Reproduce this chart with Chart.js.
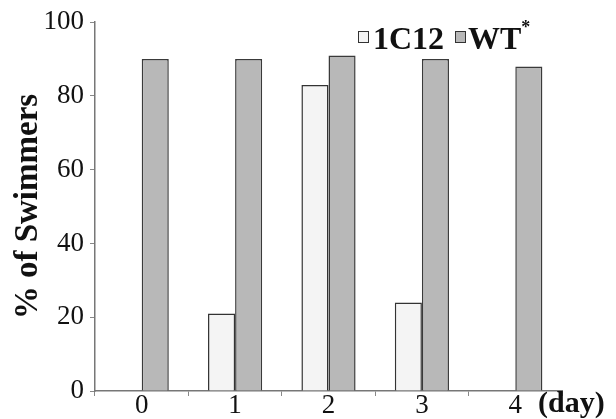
<!DOCTYPE html>
<html lang="en">
<head>
  <meta charset="UTF-8">
  <title>% of Swimmers</title>
  <script src="https://cdn.jsdelivr.net/npm/chart.js"></script>
  <style>
    body {
      margin: 0;
      background: #fff;
      font-family: 'Liberation Serif', 'Times New Roman', serif;
    }
    .wrap {
      position: relative;
      width: 616px;
      height: 419px;
      overflow: hidden;
    }
    .lg {
      position: absolute;
      font-weight: bold;
      font-size: 32px;
      line-height: 1;
      color: #111;
      white-space: nowrap;
    }
    .box {
      position: absolute;
      width: 9px;
      height: 10px;
      border: 1.5px solid #333;
    }
    .lg sup {
      font-size: 18px;
      vertical-align: baseline;
      position: relative;
      top: -16px;
    }
    .day {
      position: absolute;
      left: 538px;
      top: 387px;
      font-weight: bold;
      font-size: 30px;
      line-height: 1;
      color: #111;
    }
  </style>
</head>
<body>
  <div class="wrap">
    <canvas id="swimChart" width="616" height="419"></canvas>
    <span class="box" style="left:358px; top:31px; background:#f4f4f4"></span>
    <span class="lg" style="left:373px; top:22px">1C12</span>
    <span class="box" style="left:455px; top:31px; background:#b8b8b8"></span>
    <span class="lg" style="left:468px; top:22px">WT<sup>*</sup></span>
    <div class="day">(day)</div>
  </div>

  <script>
    // data
    const days = ['0', '1', '2', '3', '4'];
    const mutant1C12 = [0, 21, 83, 24, 0];
    const wildType = [90, 90, 91, 90, 88];
    const yTicks = [0, 20, 40, 60, 80, 100];

    const serif = "'Liberation Serif', 'Times New Roman', serif";

    const ctx = document.getElementById('swimChart').getContext('2d');
    const swimChart = new Chart(ctx, {
      type: 'bar',
      data: {
        labels: days,
        datasets: [{
          label: '1C12',
          data: mutant1C12,
          backgroundColor: '#f4f4f4',
          borderColor: '#333',
          borderWidth: 1.5,
          categoryPercentage: 0.58,
          barPercentage: 1.0
        }, {
          label: 'WT*',
          data: wildType,
          backgroundColor: '#b8b8b8',
          borderColor: '#3a3a3a',
          borderWidth: 1.5,
          categoryPercentage: 0.58,
          barPercentage: 1.0
        }]
      },
      options: {
        responsive: false,
        animation: false,
        layout: { padding: { top: 21, right: 54, left: 0, bottom: 0 } },
        plugins: {
          legend: { display: false },
          tooltip: { enabled: false }
        },
        scales: {
          x: {
            grid: { drawOnChartArea: false, tickLength: 5, color: '#888' },
            border: { color: '#777', width: 1.5 },
            ticks: { color: '#111', font: { family: serif, size: 27, lineHeight: 1 }, padding: -4 },
            afterFit: function (scale) { scale.height = 28; }
          },
          y: {
            min: 0,
            max: 100,
            afterBuildTicks: function (scale) {
              scale.ticks = yTicks.map(v => ({ value: v }));
            },
            grid: { drawOnChartArea: false, tickLength: 5, color: '#888' },
            border: { color: '#777', width: 1.5 },
            ticks: { color: '#111', font: { family: serif, size: 27 }, padding: 6 },
            title: {
              display: true,
              text: '% of Swimmers',
              color: '#111',
              font: { family: serif, size: 33, weight: 'bold' },
              padding: { top: 9, bottom: 2 }
            },
            afterFit: function (scale) { scale.width = 95; }
          }
        }
      }
    });
  </script>
</body>
</html>
